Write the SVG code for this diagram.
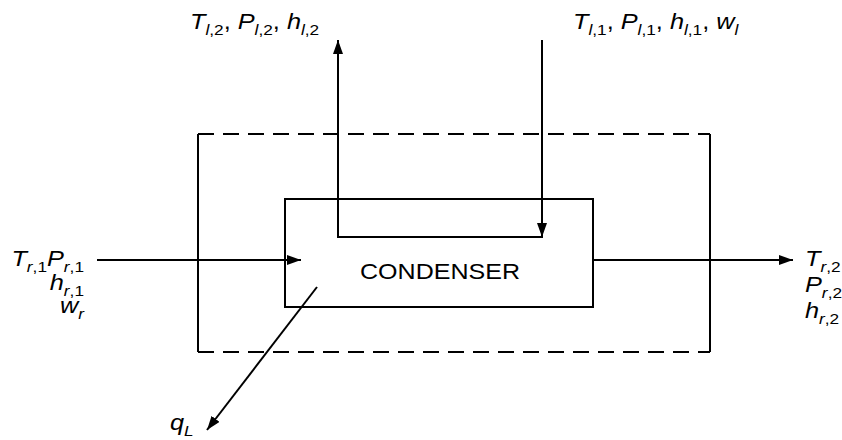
<svg xmlns="http://www.w3.org/2000/svg" width="842" height="440" viewBox="0 0 842 440">
<style>
.ln{stroke:#000;stroke-width:2;fill:none}
.dash{stroke:#000;stroke-width:2;fill:none;stroke-dasharray:16 9}
.t{font-family:"Liberation Sans",Arial,sans-serif;font-size:22px;fill:#000}
.c{font-family:"Liberation Sans",Arial,sans-serif;font-size:22px;fill:#000}
.i{font-style:italic}
.s{font-size:15px}
</style>
<defs>
<marker id="ah" viewBox="0 0 14 10" refX="14" refY="5" markerWidth="14" markerHeight="10" markerUnits="userSpaceOnUse" orient="auto">
<path d="M0,0 L14,5 L0,10 Z" fill="#000"/>
</marker>
</defs>
<rect width="842" height="440" fill="#fff"/>
<g id="boundary">
<line class="dash" x1="198" y1="134" x2="710" y2="134"/>
<line class="dash" x1="198" y1="352" x2="710" y2="352"/>
<line class="ln" x1="198" y1="134" x2="198" y2="352"/>
<line class="ln" x1="710" y1="134" x2="710" y2="352"/>
</g>
<g id="condenser">
<rect class="ln" x="285" y="199" width="308" height="108"/>
<text class="c" x="360" y="279" textLength="160" lengthAdjust="spacingAndGlyphs">CONDENSER</text>
</g>
<g id="connectors">
<polyline class="ln" points="542,40 542,237 338,237 338,40" marker-end="url(#ah)"/>
<line class="ln" x1="542" y1="200" x2="542" y2="237" marker-end="url(#ah)"/>
<line class="ln" x1="97" y1="260" x2="301" y2="260" marker-end="url(#ah)"/>
<line class="ln" x1="593" y1="260" x2="793" y2="260" marker-end="url(#ah)"/>
<line class="ln" x1="317" y1="287" x2="207" y2="430" marker-end="url(#ah)"/>
</g>
<g id="label-l2">
<text class="t" transform="translate(190,29) scale(1.15,1)"><tspan class="i">T</tspan><tspan class="s" dy="6"><tspan class="i">l</tspan>,2</tspan><tspan dy="-6">, </tspan><tspan class="i">P</tspan><tspan class="s" dy="6"><tspan class="i">l</tspan>,2</tspan><tspan dy="-6">, </tspan><tspan class="i">h</tspan><tspan class="s" dy="6"><tspan class="i">l</tspan>,2</tspan></text>
</g>
<g id="label-l1">
<text class="t" transform="translate(573,29) scale(1.15,1)"><tspan class="i">T</tspan><tspan class="s" dy="6"><tspan class="i">l</tspan>,1</tspan><tspan dy="-6">, </tspan><tspan class="i">P</tspan><tspan class="s" dy="6"><tspan class="i">l</tspan>,1</tspan><tspan dy="-6">, </tspan><tspan class="i">h</tspan><tspan class="s" dy="6"><tspan class="i">l</tspan>,1</tspan><tspan dy="-6">, </tspan><tspan class="i">w</tspan><tspan class="s i" dy="6">l</tspan></text>
</g>
<g id="label-r1">
<text class="t" text-anchor="end" transform="translate(84,266) scale(1.15,1)"><tspan class="i" x="0" y="0">T</tspan><tspan class="s" dy="6"><tspan class="i">r</tspan>,1</tspan><tspan class="i" dy="-6">P</tspan><tspan class="s" dy="6"><tspan class="i">r</tspan>,1</tspan><tspan class="i" x="0" y="24">h</tspan><tspan class="s" dy="6"><tspan class="i">r</tspan>,1</tspan><tspan class="i" x="0" y="47">w</tspan><tspan class="s i" dy="6">r</tspan></text>
</g>
<g id="label-r2">
<text class="t" transform="translate(805,266) scale(1.15,1)"><tspan class="i" x="0" y="0">T</tspan><tspan class="s" dy="6"><tspan class="i">r</tspan>,2</tspan><tspan class="i" x="0" y="26">P</tspan><tspan class="s" dy="6"><tspan class="i">r</tspan>,2</tspan><tspan class="i" x="0" y="52">h</tspan><tspan class="s" dy="6"><tspan class="i">r</tspan>,2</tspan></text>
</g>
<g id="label-q">
<text class="t" transform="translate(170,430) scale(1.15,1)"><tspan class="i">q</tspan><tspan class="s i" dy="6">L</tspan></text>
</g>
</svg>
